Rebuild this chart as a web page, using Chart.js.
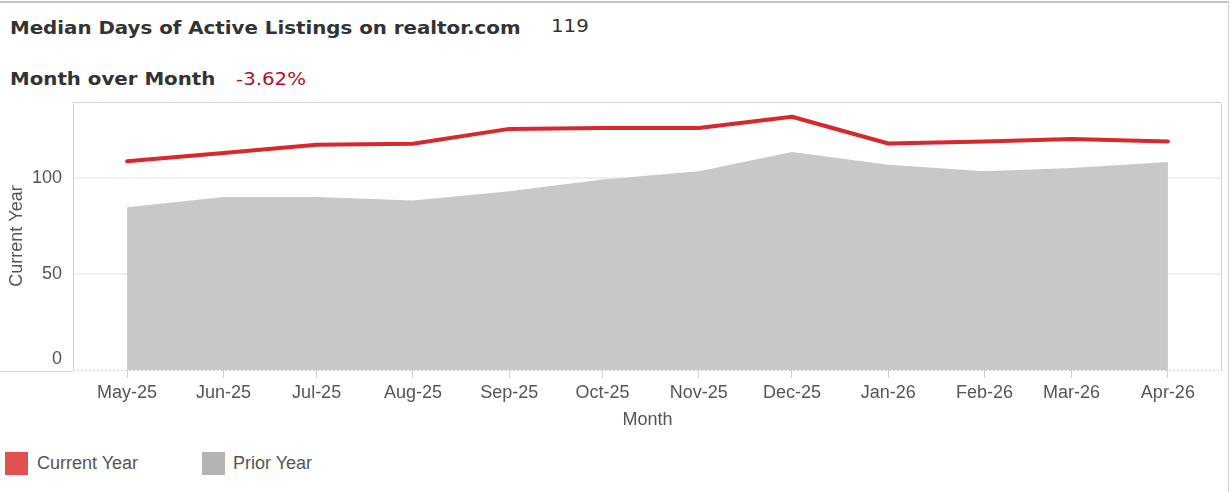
<!DOCTYPE html>
<html>
<head>
<meta charset="utf-8">
<script src="https://cdn.jsdelivr.net/npm/chart.js@4.4.1/dist/chart.umd.min.js"></script>
<style>
  html, body { margin: 0; padding: 0; background: #fff; }
  #wrap { position: relative; width: 1231px; height: 492px; overflow: hidden; }
  #frame { position: absolute; left: -2px; top: 1px; width: 1230px; height: 500px;
           border-top: 2px solid #c4c4c4; border-right: 1px solid #d0d0d0; }
  .hd { position: absolute; font-family: "DejaVu Sans", sans-serif; font-size: 18.5px;
        line-height: 18px; color: #333; white-space: nowrap;
        transform: scaleX(1.07); transform-origin: 0 0; }
  .hd b { font-weight: bold; }
  .lg { position: absolute; top: 452px; height: 23px; font-family: "Liberation Sans", Arial, sans-serif;
        font-size: 18px; line-height: 23px; color: #555; white-space: nowrap; }
  .sw { position: absolute; top: 452px; width: 23px; height: 23px; }
  canvas { position: absolute; left: 0; top: 0; }
</style>
</head>
<body>
<div id="wrap">
  <div id="frame"></div>
  <div class="hd" style="left:10px; top:19px;"><b>Median Days of Active Listings on realtor.com</b></div>
  <div class="hd" id="latest" style="left:551px; top:17px;"></div>
  <div class="hd" style="left:10px; top:70px;"><b>Month over Month</b></div>
  <div class="hd" id="mom" style="left:236px; top:70px; color:#b0102a;"></div>

  <canvas id="chart" width="1231" height="440"></canvas>

  <div class="sw" style="left:5px; background:#e05252;"></div>
  <div class="lg" style="left:37px;">Current Year</div>
  <div class="sw" style="left:202px; background:#b4b4b4;"></div>
  <div class="lg" style="left:233px;">Prior Year</div>
</div>

<script>
// month starts (x positions follow real calendar days)
const months = ['2025-05-01', '2025-06-01', '2025-07-01', '2025-08-01', '2025-09-01', '2025-10-01',
                '2025-11-01', '2025-12-01', '2026-01-01', '2026-02-01', '2026-03-01', '2026-04-01'];
const monthLabels = ['May-25', 'Jun-25', 'Jul-25', 'Aug-25', 'Sep-25', 'Oct-25',
                     'Nov-25', 'Dec-25', 'Jan-26', 'Feb-26', 'Mar-26', 'Apr-26'];
const currentYear = [108.6, 113, 117.3, 117.8, 125.5, 126, 126, 131.8, 117.9, 119, 120.3, 119];
const priorYear   = [84.7, 90, 90, 88.2, 93, 99.1, 103.4, 113.5, 106.8, 103.4, 105.2, 108.3];
const yTicks = [0, 50, 100];

const latestValue = '119';
const monthOverMonth = '-3.62%';

document.getElementById('latest').textContent = latestValue;
document.getElementById('mom').textContent = monthOverMonth;

const base = Date.UTC(2025, 4, 1);
const dayOf = s => {
    const [y, m, d] = s.split('-').map(Number);
    return (Date.UTC(y, m - 1, d) - base) / 86400000;
};
const xDays = months.map(dayOf);
const span = xDays[xDays.length - 1] - xDays[0];
const edge = span * 0.052;

const axisFont = { family: '"Liberation Sans", Arial, sans-serif', size: 18 };

// plot frame: solid left/top/right, dashed bottom, plus row divider at left
const framePlugin = {
    id: 'frame',
    afterDatasetsDraw(chart) {
        const { ctx, chartArea: a } = chart;
        ctx.save();
        ctx.strokeStyle = '#d4d4d4';
        ctx.lineWidth = 1;
        ctx.beginPath();
        ctx.moveTo(a.left + 0.5, a.bottom + 1);
        ctx.lineTo(a.left + 0.5, a.top + 0.5);
        ctx.lineTo(a.right - 0.5, a.top + 0.5);
        ctx.lineTo(a.right - 0.5, a.bottom);
        ctx.moveTo(0, a.bottom + 1.5);
        ctx.lineTo(a.left, a.bottom + 1.5);
        ctx.stroke();
        ctx.setLineDash([2, 2]);
        ctx.beginPath();
        ctx.moveTo(a.left, a.bottom + 0.5);
        ctx.lineTo(a.right, a.bottom + 0.5);
        ctx.stroke();
        ctx.restore();
    }
};

new Chart(document.getElementById('chart'), {
    type: 'line',
    data: {
        datasets: [
            {
                label: 'Current Year',
                data: xDays.map((x, i) => ({ x, y: currentYear[i] })),
                borderColor: '#d7282b',
                borderWidth: 4,
                borderCapStyle: 'round',
                borderJoinStyle: 'round',
                pointRadius: 0,
                fill: false,
                tension: 0
            },
            {
                label: 'Prior Year',
                data: xDays.map((x, i) => ({ x, y: priorYear[i] })),
                backgroundColor: '#c8c8c8',
                borderWidth: 0,
                pointRadius: 0,
                fill: 'origin',
                tension: 0
            }
        ]
    },
    options: {
        responsive: false,
        animation: false,
        layout: { padding: { top: 102, right: 9, left: 0, bottom: 0 } },
        plugins: { legend: { display: false }, tooltip: { enabled: false } },
        scales: {
            x: {
                type: 'linear',
                min: xDays[0] - edge,
                max: xDays[xDays.length - 1] + edge,
                afterBuildTicks: s => { s.ticks = xDays.map(v => ({ value: v })); },
                afterFit: s => { s.height = 70; },
                grid: { drawOnChartArea: false, drawTicks: true, tickLength: 8, color: '#d0d0d0' },
                border: { display: false },
                ticks: {
                    autoSkip: false, maxRotation: 0, padding: 4,
                    font: axisFont, color: '#555',
                    callback: (v, i) => monthLabels[i]
                },
                title: { display: true, text: 'Month', font: axisFont, color: '#555', padding: { top: 0, bottom: 9 } }
            },
            y: {
                min: 0,
                max: 139.5,
                z: 1,
                afterBuildTicks: s => { s.ticks = yTicks.map(v => ({ value: v })); },
                afterFit: s => { s.width = 73; },
                grid: {
                    drawTicks: false,
                    lineWidth: 2,
                    color: c => c.tick && c.tick.value === 0 ? 'rgba(0,0,0,0)' : 'rgba(0,0,0,0.06)'
                },
                border: { display: false },
                ticks: {
                    padding: 11, font: axisFont, color: '#555',
                    // the bottom label sits just above the axis line
                    callback: v => v === 0 ? ['0', ''] : String(v)
                },
                title: { display: true, text: 'Current Year', font: axisFont, color: '#555', padding: { top: 6, bottom: 0 } }
            }
        }
    },
    plugins: [framePlugin]
});
</script>
</body>
</html>
